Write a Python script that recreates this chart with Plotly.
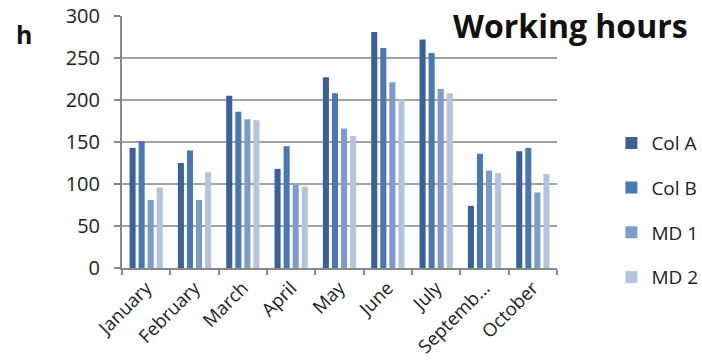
import plotly.graph_objects as go

months = ["January", "February", "March", "April", "May", "June", "July", "Septemb...", "October"]
col_a = [143, 125, 205, 118, 227, 281, 272, 74, 139]
col_b = [151, 140, 186, 145, 208, 262, 256, 136, 143]
md_1 = [81, 81, 177, 99, 166, 221, 213, 116, 90]
md_2 = [96, 114, 176, 97, 157, 201, 208, 113, 112]
series_names = ["Col A", "Col B", "MD 1", "MD 2"]
colors = ["#3d6196", "#4b78b0", "#7f9cc9", "#b4c4df"]
y_ticks = [0, 50, 100, 150, 200, 250, 300]

font_family = "Open Sans, Liberation Sans, sans-serif"

fig = go.Figure()
for i, (name, vals) in enumerate(zip(series_names, [col_a, col_b, md_1, md_2])):
    fig.add_trace(go.Bar(
        x=months, y=vals, name=name, legendgroup=name,
        marker=dict(color=colors[i], line=dict(width=0)),
    ))

fig.update_layout(
    width=702, height=363,
    margin=dict(l=122, r=145, t=16, b=95, autoexpand=False),
    paper_bgcolor="white", plot_bgcolor="white",
    barmode="group", bargap=0.25, bargroupgap=0.33,
    font=dict(family=font_family, size=19, color="#222222"),
    showlegend=True,
    legend=dict(
        x=1.125, xanchor="left", y=0.23, yanchor="middle",
        font=dict(size=19, color="#222222"),
        tracegroupgap=17, itemwidth=30,
        bgcolor="rgba(0,0,0,0)",
    ),
    xaxis=dict(
        type="category", tickangle=-45, showgrid=False, automargin=False,
        showline=True, linecolor="#888888", linewidth=2,
        ticks="outside", tickson="boundaries", ticklen=5,
        tickcolor="#888888", tickwidth=2,
        tickfont=dict(size=18.5, color="#222222"),
    ),
    yaxis=dict(
        range=[0, 300], tickvals=y_ticks, automargin=False,
        showgrid=True, gridcolor="#a3a3a3", gridwidth=1.5,
        showline=True, linecolor="#888888", linewidth=2,
        ticks="outside", ticklen=6, tickcolor="#888888", tickwidth=2,
        ticklabelstandoff=10,
        tickfont=dict(size=20, color="#222222"),
        zeroline=False,
    ),
    annotations=[
        dict(text="<b>Working hours</b>", xref="paper", yref="paper",
             x=1.306, y=0.964, xanchor="right", yanchor="middle",
             showarrow=False, font=dict(size=32, color="#111111", family=font_family)),
        dict(text="<b>h</b>", xref="paper", yref="paper",
             x=-0.226, y=0.929, xanchor="center", yanchor="middle",
             showarrow=False, font=dict(size=25, color="#111111", family=font_family)),
    ],
)

fig.write_html("out.html")
